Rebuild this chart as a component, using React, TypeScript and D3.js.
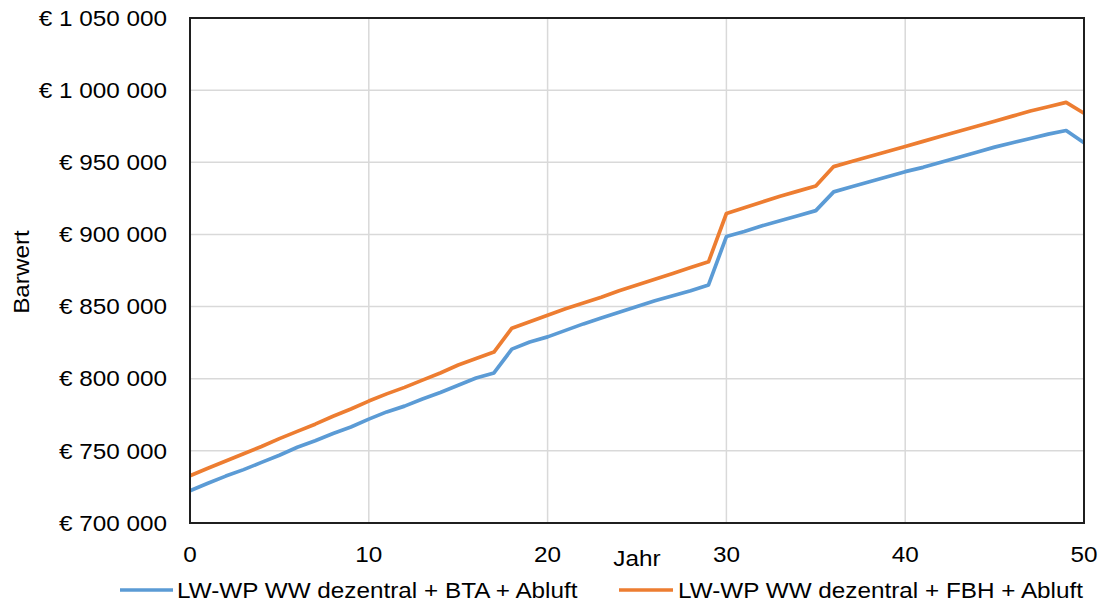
import React from 'react';
import * as d3 from 'd3';

// Barwert je Jahr (0..50)
const blueValues = [
  722400, 727500, 732500, 737000, 742000, 747000, 752500, 757000, 762000, 766500,
  772000, 777000, 781000, 786000, 790500, 795500, 800500, 804000, 820500, 825500,
  829000, 833500, 838000, 842000, 846000, 850000, 854000, 857500, 861000, 865000,
  898500, 902000, 906000, 909500, 913000, 916500, 929500, 933000, 936500, 940000,
  943500, 946500, 950000, 953500, 957000, 960500, 963500, 966500, 969500, 972000,
  963500,
];
const orangeValues = [
  732800, 738000, 743000, 748000, 753000, 758500, 763500, 768500, 774000, 779000,
  784500, 789500, 794000, 799000, 804000, 809500, 814000, 818500, 835000, 839500,
  844000, 848500, 852500, 856500, 861000, 865000, 869000, 873000, 877000, 881000,
  914500, 918500, 922500, 926500, 930000, 933500, 947000, 950500, 954000, 957500,
  961000, 964500, 968000, 971500, 975000, 978500, 982000, 985500, 988500, 991500,
  984000,
];
const years = blueValues.map((_, i) => i);

const seriesNames = ['LW-WP WW dezentral + BTA + Abluft', 'LW-WP WW dezentral + FBH + Abluft'];
const seriesColors = ['#5B9BD5', '#ED7D31'];

const xTicks = [0, 10, 20, 30, 40, 50];
const yTicks = [700000, 750000, 800000, 850000, 900000, 950000, 1000000, 1050000];

const W = 1104;
const H = 603;
const FS = 21.5;
const SX = 1.13;
const FONT = '"Liberation Sans", Arial, sans-serif';

const fmt = (v: number) => '€ ' + d3.format(',')(v).replace(/,/g, ' ');

const App: React.FC = () => {
  const x = d3.scaleLinear().domain([0, 50]).range([190, 1084]);
  const y = d3.scaleLinear().domain([700000, 1050000]).range([523, 18]);

  const line = d3.line<number>()
    .x((_, i) => x(years[i]))
    .y(d => y(d));

  const series = [blueValues, orangeValues];
  const capHalf = FS * 0.358;

  const txt = (tx: number, ty: number, s: string, anchor: string, rot = 0) => (
    <text
      transform={`translate(${tx},${ty}) rotate(${rot}) scale(${SX},1)`}
      textAnchor={anchor}
      fontFamily={FONT}
      fontSize={FS}
      fill="#000"
    >
      {s}
    </text>
  );

  return (
    <svg width={W} height={H} style={{ position: 'absolute', left: 0, top: 0, background: '#fff' }}>
      <rect width={W} height={H} fill="#fff" />
      {/* gridlines */}
      {yTicks.map(t => (
        <line key={'gy' + t} x1={190} x2={1084} y1={y(t)} y2={y(t)} stroke="#D9D9D9" strokeWidth={1.5} />
      ))}
      {xTicks.map(t => (
        <line key={'gx' + t} x1={x(t)} x2={x(t)} y1={18} y2={523} stroke="#D9D9D9" strokeWidth={1.5} />
      ))}
      {/* series */}
      {series.map((s, i) => (
        <path key={'s' + i} d={line(s) || ''} fill="none" stroke={seriesColors[i]} strokeWidth={3.7} strokeLinejoin="round" />
      ))}
      {/* frame */}
      <rect x={190} y={18} width={894} height={505} fill="none" stroke="#1f1f1f" strokeWidth={2} />
      {/* y tick labels */}
      {yTicks.map(t => (
        <g key={'yl' + t}>{txt(167, y(t) + capHalf, fmt(t), 'end')}</g>
      ))}
      {/* x tick labels */}
      {xTicks.map(t => (
        <g key={'xl' + t}>{txt(x(t), 523 + 31 + capHalf, String(t), 'middle')}</g>
      ))}
      {txt(637, 565.5, 'Jahr', 'middle')}
      {txt(21 + capHalf, 272, 'Barwert', 'middle', -90)}
      {/* legend */}
      <line x1={120} x2={173} y1={590} y2={590} stroke={seriesColors[0]} strokeWidth={3.7} />
      {txt(177, 590 + capHalf, seriesNames[0], 'start')}
      <line x1={619} x2={673} y1={590} y2={590} stroke={seriesColors[1]} strokeWidth={3.7} />
      {txt(678, 590 + capHalf, seriesNames[1], 'start')}
    </svg>
  );
};

export default App;
